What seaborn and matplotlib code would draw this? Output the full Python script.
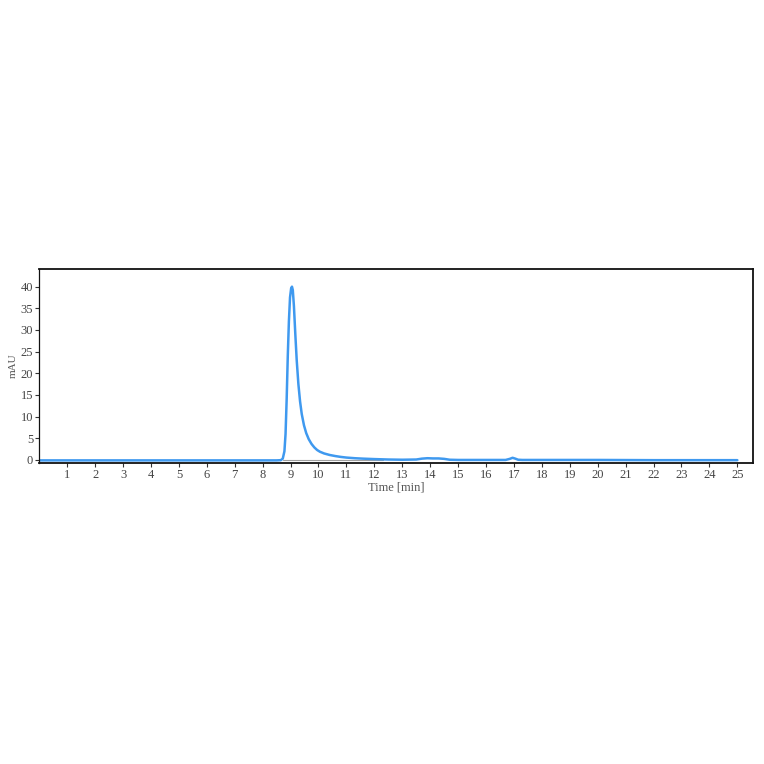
import matplotlib
matplotlib.use("Agg")
import matplotlib.pyplot as plt
import seaborn as sns
import pandas as pd

time_min = [0.0, 2.0, 4.0, 6.0, 8.0, 8.5, 8.65, 8.72, 8.78, 8.82, 8.86, 8.9, 8.94, 8.98,
            9.02, 9.05, 9.08, 9.12, 9.17, 9.22, 9.28, 9.34, 9.4, 9.48, 9.56, 9.65,
            9.75, 9.85, 9.95, 10.05, 10.2, 10.4, 10.6, 10.8, 11.0, 11.3, 11.6, 12.0,
            12.5, 13.0, 13.5, 13.7, 13.9, 14.1, 14.3, 14.5, 14.7, 15.0, 16.0, 16.7,
            16.85, 16.95, 17.05, 17.15, 17.3, 18.0, 20.0, 22.0, 24.0, 25.0]
absorbance = [-0.1, -0.1, -0.1, -0.1, -0.1, -0.1, -0.05, 0.3, 2.0, 6.0, 14.0, 24.0, 32.0, 37.5,
              39.6, 40.0, 39.2, 35.5, 29.0, 23.0, 17.5, 13.5, 10.6, 8.0, 6.2, 4.8,
              3.7, 2.9, 2.3, 1.9, 1.5, 1.15, 0.9, 0.7, 0.55, 0.4, 0.3, 0.2,
              0.1, 0.05, 0.1, 0.3, 0.4, 0.35, 0.35, 0.25, 0.05, 0.0, 0.0, 0.0,
              0.25, 0.5, 0.3, 0.05, 0.0, 0.0, 0.0, -0.05, -0.05, -0.05]
baseline_time = [8.72, 12.3]
baseline_value = [0.0, 0.0]
x_ticks = list(range(1, 26))
y_ticks = [0, 5, 10, 15, 20, 25, 30, 35, 40]

sns.set_style("white")
plt.rcParams['font.family'] = ['Liberation Serif', 'DejaVu Serif']

df = pd.DataFrame({"Time [min]": time_min, "mAU": absorbance})
fig = plt.figure(figsize=(7.64, 7.64), dpi=100)
ax = fig.add_axes([0.0514, 0.394, 0.9338, 0.2535])

ax.plot(baseline_time, baseline_value, color="#a0a0a0", lw=0.8, zorder=1)
sns.lineplot(data=df, x="Time [min]", y="mAU", ax=ax, color="#3f99ef", lw=1.8, zorder=2)

ax.set_xlim(0, 25.55)
ax.set_ylim(-0.7, 44.0)
ax.set_xticks(x_ticks)
ax.set_yticks(y_ticks)
ax.tick_params(axis="both", direction="out", length=3, width=0.8, colors="#333333",
               labelsize=9, labelcolor="#444444", pad=1.5)
ax.tick_params(axis="x", bottom=True)
ax.tick_params(axis="y", left=True)
ax.set_xlabel("Time [min]", fontsize=9, color="#555555", labelpad=0)
ax.set_ylabel("mAU", fontsize=8, color="#555555", labelpad=2)
for s in ["top", "right", "bottom", "left"]:
    ax.spines[s].set_visible(True)
    ax.spines[s].set_color("#111111")
    ax.spines[s].set_linewidth(1.3)
ax.spines["left"].set_linewidth(0.9)

fig.savefig("out.png", dpi=100)
